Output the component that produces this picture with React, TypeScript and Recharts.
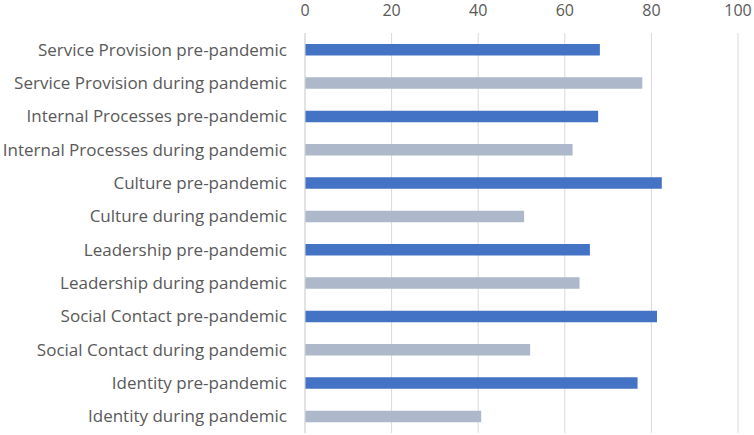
import React from "react";
import { BarChart, Bar, XAxis, YAxis, CartesianGrid, Cell } from "recharts";

const categories = [
  "Service Provision pre-pandemic",
  "Service Provision during pandemic",
  "Internal Processes pre-pandemic",
  "Internal Processes during pandemic",
  "Culture pre-pandemic",
  "Culture during pandemic",
  "Leadership pre-pandemic",
  "Leadership during pandemic",
  "Social Contact pre-pandemic",
  "Social Contact during pandemic",
  "Identity pre-pandemic",
  "Identity during pandemic",
];

const values = [68.1, 77.9, 67.7, 61.8, 82.4, 50.6, 65.8, 63.4, 81.3, 52.0, 76.8, 40.7];

const xTicks = [0, 20, 40, 60, 80, 100];

const PRE_COLOR = "#4472C4";
const DURING_COLOR = "#ADB9CA";

const data = categories.map((name, i) => ({ name, value: values[i] }));

const FONT = "'Open Sans', 'Noto Sans', sans-serif";
const yTickStyle = { fill: "#595959", fontSize: 17, fontFamily: FONT };
const xTickStyle = { fill: "#595959", fontSize: 16, fontFamily: FONT };

export default function App() {
  return (
    <div style={{ position: "absolute", left: 0, top: 0, width: 754, height: 435, background: "#fff" }}>
      <BarChart
        width={754}
        height={435}
        data={data}
        layout="vertical"
        margin={{ top: 0, right: 16, bottom: 2, left: 0 }}
        barCategoryGap={0}
      >
        <CartesianGrid horizontal={false} stroke="#d9d9d9" />
        <XAxis
          type="number"
          orientation="top"
          domain={[0, 100]}
          ticks={xTicks}
          height={33}
          axisLine={false}
          tickLine={false}
          tickMargin={11}
          tick={xTickStyle}
          interval={0}
        />
        <YAxis
          type="category"
          dataKey="name"
          width={305}
          axisLine={{ stroke: "#d9d9d9" }}
          tickLine={false}
          tickMargin={12}
          tick={yTickStyle}
          interval={0}
        />
        <Bar dataKey="value" barSize={11.5} isAnimationActive={false}>
          {data.map((d, i) => (
            <Cell key={i} fill={d.name.includes("pre-pandemic") ? PRE_COLOR : DURING_COLOR} />
          ))}
        </Bar>
      </BarChart>
    </div>
  );
}
